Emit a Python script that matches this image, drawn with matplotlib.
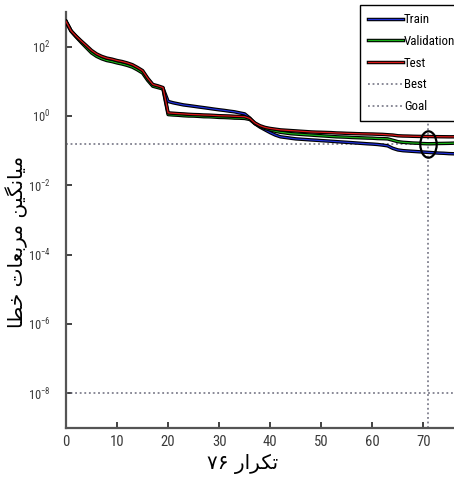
import matplotlib
matplotlib.use("Agg")
import matplotlib.pyplot as plt
import matplotlib.patheffects as pe
from matplotlib import font_manager
from matplotlib.font_manager import FontProperties
from matplotlib.path import Path
import numpy as np

# ---------------- data ----------------
epochs = list(range(77))

train_mse = [537, 282, 195, 138, 100, 72.4, 57.5, 49.0, 43.7, 40.7,
             37.2, 34.7, 31.6, 28.2, 23.4, 19.1, 11.7, 7.76, 7.08, 6.31,
             2.63, 2.40, 2.24, 2.09, 2.00, 1.91, 1.82, 1.74, 1.66, 1.58,
             1.51, 1.45, 1.38, 1.32, 1.23, 1.15, 0.871, 0.603, 0.479, 0.398,
             0.331, 0.282, 0.251, 0.240, 0.229, 0.219, 0.214, 0.209, 0.204, 0.200,
             0.195, 0.191, 0.187, 0.182, 0.178, 0.174, 0.170, 0.166, 0.162, 0.158,
             0.155, 0.151, 0.145, 0.138, 0.117, 0.105, 0.100, 0.0977, 0.0955, 0.0933,
             0.0912, 0.0891, 0.0871, 0.0851, 0.0841, 0.0822, 0.0813]

val_mse = [537, 282, 191, 132, 93.3, 66.1, 52.5, 44.7, 39.8, 37.2,
           34.0, 31.6, 28.8, 25.7, 21.4, 17.4, 10.7, 7.24, 6.61, 6.03,
           1.10, 1.07, 1.05, 1.02, 1.00, 0.995, 0.977, 0.955, 0.950, 0.933,
           0.912, 0.905, 0.891, 0.871, 0.865, 0.851, 0.794, 0.603, 0.501, 0.437,
           0.398, 0.363, 0.339, 0.324, 0.309, 0.302, 0.295, 0.288, 0.282, 0.275,
           0.269, 0.263, 0.257, 0.251, 0.248, 0.245, 0.240, 0.237, 0.234, 0.231,
           0.229, 0.224, 0.222, 0.219, 0.200, 0.182, 0.174, 0.170, 0.166, 0.164,
           0.160, 0.158, 0.159, 0.161, 0.162, 0.163, 0.165]

test_mse = [537, 285, 200, 145, 107, 78.0, 61.7, 52.5, 46.8, 43.7,
            39.8, 37.2, 33.9, 30.2, 25.1, 20.4, 12.3, 8.13, 7.41, 6.61,
            1.23, 1.20, 1.17, 1.15, 1.12, 1.10, 1.09, 1.07, 1.06, 1.04,
            1.02, 1.01, 1.00, 0.980, 0.970, 0.955, 0.851, 0.631, 0.525, 0.468,
            0.437, 0.417, 0.398, 0.389, 0.380, 0.372, 0.363, 0.355, 0.347, 0.342,
            0.339, 0.335, 0.331, 0.324, 0.321, 0.316, 0.313, 0.309, 0.306, 0.304,
            0.302, 0.298, 0.295, 0.288, 0.282, 0.269, 0.265, 0.263, 0.260, 0.258,
            0.257, 0.256, 0.254, 0.253, 0.252, 0.251, 0.251]

best_epoch = 71
best_mse = 0.158
goal_mse = 1e-8

legend_labels = ["Train", "Validation", "Test", "Best", "Goal"]
xticks = [0, 10, 20, 30, 40, 50, 60, 70]
yticks = [1e-8, 1e-6, 1e-4, 1e-2, 1e0, 1e2]

ylabel_fa = "میانگین مربعات خطا"
xlabel_word_fa = "تکرار"
xlabel_num_fa = "۷۶"

# ---------- minimal Persian shaping (presentation forms, visual order) ----------
# letter: (isolated, final, initial, medial); right-joining letters have no initial/medial
FORMS = {
    "ا": ("\uFE8D", "\uFE8E", None, None),
    "ر": ("\uFEAD", "\uFEAE", None, None),
    "ب": ("\uFE8F", "\uFE90", "\uFE91", "\uFE92"),
    "ت": ("\uFE95", "\uFE96", "\uFE97", "\uFE98"),
    "خ": ("\uFEA5", "\uFEA6", "\uFEA7", "\uFEA8"),
    "ط": ("\uFEC1", "\uFEC2", "\uFEC3", "\uFEC4"),
    "ع": ("\uFEC9", "\uFECA", "\uFECB", "\uFECC"),
    "م": ("\uFEE1", "\uFEE2", "\uFEE3", "\uFEE4"),
    "ن": ("\uFEE5", "\uFEE6", "\uFEE7", "\uFEE8"),
    "ک": ("\uFB8E", "\uFB8F", "\uFB90", "\uFB91"),
    "گ": ("\uFB92", "\uFB93", "\uFB94", "\uFB95"),
    "ی": ("\uFBFC", "\uFBFD", "\uFBFE", "\uFBFF"),
}


def dual(ch):
    return ch in FORMS and FORMS[ch][2] is not None


def shape_rtl(text):
    out = []
    for i, ch in enumerate(text):
        if ch not in FORMS:
            out.append(ch)
            continue
        prev = text[i - 1] if i > 0 else ""
        nxt = text[i + 1] if i + 1 < len(text) else ""
        join_prev = dual(prev)
        join_next = dual(ch) and nxt in FORMS
        iso, fin, ini, med = FORMS[ch]
        if join_prev and join_next:
            out.append(med)
        elif join_prev:
            out.append(fin)
        elif join_next:
            out.append(ini)
        else:
            out.append(iso)
    return "".join(reversed(out))


# ---------------- fonts: prefer a condensed sans for ticks and legend ----------------
def find_narrow():
    entries = font_manager.fontManager.ttflist
    for wanted in ("Liberation Sans Narrow", "Arial Narrow", "Roboto Condensed",
                   "Open Sans Condensed"):
        for f in entries:
            if f.name == wanted and f.style == "normal" and f.weight in (400, "normal", "regular"):
                return f.fname
    for f in entries:
        if (f.name == "DejaVu Sans" and "condensed" in str(f.stretch).lower()
                and f.style == "normal" and f.weight in (400, "normal", "book", "regular")):
            return f.fname
    for f in entries:
        low = f.fname.lower()
        if ("narrow" in low or "condensed" in low) and "bold" not in low and "oblique" not in low \
                and "italic" not in low and "mono" not in low and "serif" not in low:
            return f.fname
    return None


narrow_file = find_narrow()
if narrow_file:
    narrow_family = FontProperties(fname=narrow_file).get_name()
    font_manager.fontManager.addfont(narrow_file)
else:
    narrow_family = "Liberation Sans"

plt.rcParams["font.family"] = ["Liberation Sans", "DejaVu Sans"]
plt.rcParams["mathtext.fontset"] = "custom"
if narrow_file and "DejaVu" in narrow_family:
    plt.rcParams["mathtext.rm"] = "DejaVu Sans:stretch=condensed"
else:
    plt.rcParams["mathtext.rm"] = narrow_family


def narrow_props(size):
    if narrow_file:
        return FontProperties(fname=narrow_file, size=size)
    return FontProperties(family="Liberation Sans", size=size)


# ---------------- figure ----------------
fig = plt.figure(figsize=(4.54, 4.83), dpi=100)
ax = fig.add_axes([66 / 454, 1 - 428 / 483, (454 - 66) / 454, (428 - 12) / 483])

outline = [pe.Stroke(linewidth=2.5, foreground="black"), pe.Normal()]

l_train, = ax.plot(epochs, train_mse, color="#2030d8", lw=0.9, path_effects=outline, zorder=3)
l_val, = ax.plot(epochs, val_mse, color="#18b018", lw=0.9, path_effects=outline, zorder=4)
l_test, = ax.plot(epochs, test_mse, color="#d81818", lw=0.9, path_effects=outline, zorder=5)

dot_kw = dict(color="#6a6a7a", linestyle=(0, (1.2, 1.8)), lw=1.1)
l_best = ax.axhline(best_mse, zorder=2, **dot_kw)
ax.axvline(best_epoch, zorder=2, **dot_kw)
l_goal = ax.axhline(goal_mse, zorder=2, **dot_kw)

# tall ellipse around the best validation point
circ = Path.unit_circle()
ellipse = Path(circ.vertices * np.array([0.62, 1.0]), circ.codes)
ax.plot([best_epoch], [best_mse], marker=ellipse, markersize=19, markerfacecolor="none",
        markeredgecolor="black", markeredgewidth=1.6, zorder=6)

ax.set_yscale("log")
ax.set_xlim(0, 76)
ax.set_ylim(1e-9, 1e3)
ax.set_xticks(xticks)
ax.set_yticks(yticks)
ax.minorticks_off()
ax.tick_params(direction="in", length=4, width=1.2, color="#222222",
               labelsize=9.5, labelcolor="#3a3a3a")
ax.tick_params(axis="y", pad=11)
ax.tick_params(axis="x", pad=5)
for lab in ax.get_xticklabels():
    lab.set_fontproperties(narrow_props(10.5))
for lab in ax.get_yticklabels():
    lab.set_fontproperties(narrow_props(9.0))

for side in ("top", "right"):
    ax.spines[side].set_visible(False)
for side in ("left", "bottom"):
    ax.spines[side].set_color("#555555")
    ax.spines[side].set_linewidth(1.6)

ax.set_ylabel(shape_rtl(ylabel_fa), family=["DejaVu Sans"], fontsize=14.5)
ax.yaxis.set_label_coords(-0.098, 0.447)
ax.set_xlabel(xlabel_num_fa + " " + shape_rtl(xlabel_word_fa), family=["DejaVu Sans"],
              fontsize=14.5)
ax.xaxis.set_label_coords(0.456, -0.062)

leg = fig.legend([l_train, l_val, l_test, l_best, l_goal], legend_labels,
                 loc="lower left", bbox_to_anchor=(360 / 454, 1 - 121 / 483),
                 bbox_transform=fig.transFigure, borderaxespad=0,
                 prop=narrow_props(9.3), labelspacing=0.68, handlelength=2.75,
                 handletextpad=0.05, borderpad=0.6, fancybox=False, framealpha=1,
                 edgecolor="black")
leg.get_frame().set_linewidth(1.0)

fig.savefig("out.png", dpi=100)
